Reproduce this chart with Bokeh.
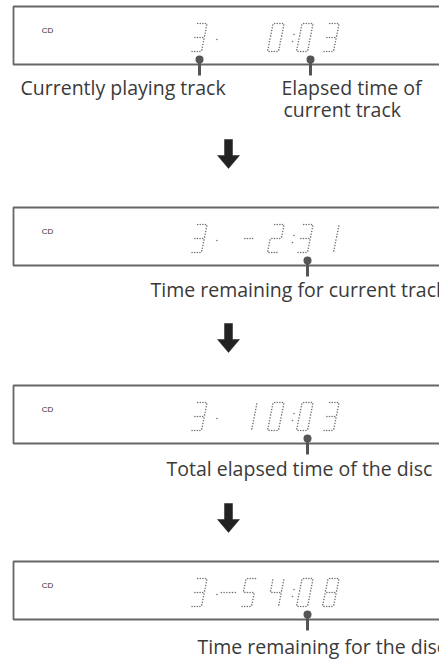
import numpy as np
from bokeh.plotting import figure
from bokeh.models import Range1d
from bokeh.core.properties import value
from bokeh.embed import file_html
from bokeh.resources import INLINE

# ---- content -------------------------------------------------------------
mode_label = "CD"
# track digit, '.', gap char, two minute cells, ':', two second cells
displays = ["3.  0:03", "3. -2:31", "3. 10:03", "3.-54:08"]
captions = [
    ["Currently playing track", "Elapsed time of", "current track"],
    ["Time remaining for current track"],
    ["Total elapsed time of the disc"],
    ["Time remaining for the disc"],
]

# ---- layout (page pixels) -----------------------------------------------
W, H = 439, 661
box_tops = [6, 207, 385, 561]
box_h = 58
box_left = 13
arrow_tops = [139, 323, 503]
arrow_x = 228
connector_x = [[199, 310], [307], [307], [307]]
caption_pos = [[(20, 23), (281, 23), (283, 45)], [(150, 24)], [(166, 25)], [(197, 27)]]

SEG = {'0': 'abcdef', '1': 'bc', '2': 'abged', '3': 'abgcd', '4': 'fgbc',
       '5': 'afgcd', '6': 'afgedc', '7': 'abc', '8': 'abcdefg', '9': 'abcdfg',
       '-': 'g', ' ': ''}
DW, DH, SL = 11.0, 28.0, 0.2
ENDS = {'a': ((0, 0), (DW, 0)), 'b': ((DW, 0), (DW, DH / 2)),
        'c': ((DW, DH / 2), (DW, DH)), 'd': ((0, DH), (DW, DH)),
        'e': ((0, DH / 2), (0, DH)), 'f': ((0, 0), (0, DH / 2)),
        'g': ((0, DH / 2), (DW, DH / 2))}
cell_x = [190, 240, 267, 296, 322]
dot_x, colon_x, dash_x0, dash_x1 = 214, 290, 218, 232


def seg_dots(x0, ytop, ch):
    xs, ys = [], []
    for s in SEG.get(ch, ''):
        (u0, v0), (u1, v1) = ENDS[s]
        L = np.hypot(u1 - u0, v1 - v0)
        ins = 1.6
        n = max(2, int(round((L - 2 * ins) / 2.6)) + 1)
        t = np.linspace(ins / L, 1 - ins / L, n)
        u = u0 + (u1 - u0) * t
        v = v0 + (v1 - v0) * t
        xs += list(x0 + u + SL * (DH - v))
        ys += list(ytop + v)
    return xs, ys


p = figure(width=W, height=H, output_backend="svg", toolbar_location=None,
           x_range=Range1d(0, W), y_range=Range1d(H, 0),
           min_border=0)
p.axis.visible = False
p.grid.visible = False
p.outline_line_color = None
p.background_fill_color = "white"

txt_font = value("Open Sans")
ink = "#3a3a3a"
line_col = "#666666"

for i, disp in enumerate(displays):
    top = box_tops[i]
    bot = top + box_h
    # box
    p.line([470, box_left, box_left, 470], [top, top, bot, bot],
           line_color=line_col, line_width=1.8)
    # mode label
    p.text([box_left + 34], [top + 24], text=[mode_label],
           text_font=value("Liberation Sans"),
           text_font_size="8px", text_color="#333333",
           text_align="center", text_baseline="middle")
    # dot-matrix digits
    dt = top + 17
    xs, ys = [], []
    cells = [disp[0], disp[3], disp[4], disp[6], disp[7]]
    for cx, ch in zip(cell_x, cells):
        a, b = seg_dots(cx, dt, ch)
        xs += a; ys += b
    # point after track number
    xs.append(dot_x + SL * (DH - 16)); ys.append(dt + 16)
    # long minus
    if disp[2] == '-':
        for xx in np.linspace(dash_x0, dash_x1, 6):
            xs.append(xx + SL * DH / 2); ys.append(dt + DH / 2)
    # colon
    for v in (11, 18):
        xs.append(colon_x + SL * (DH - v)); ys.append(dt + v)
    p.scatter(xs, ys, size=1.6, color="#707070", line_width=0)
    # connectors
    for cxp in connector_x[i]:
        p.line([cxp, cxp], [bot - 5, bot + 11], line_color="#555555", line_width=3)
        p.scatter([cxp], [bot - 5], size=8, color="#555555", line_width=0)
    # captions
    for txt, (tx, dy) in zip(captions[i], caption_pos[i]):
        p.text([tx], [bot + dy], text=[txt], text_font=txt_font,
               text_font_size="19.5px", text_color=ink,
               text_align="left", text_baseline="middle")

# arrows
for at in arrow_tops:
    xs = [arrow_x - 4, arrow_x + 4, arrow_x + 4, arrow_x + 11, arrow_x,
          arrow_x - 11, arrow_x - 4]
    ys = [at, at, at + 16, at + 16, at + 29, at + 16, at + 16]
    p.patch(xs, ys, fill_color="#222222", line_color="#222222", line_width=0.5)

open("out.html", "w").write(file_html(p, INLINE))
